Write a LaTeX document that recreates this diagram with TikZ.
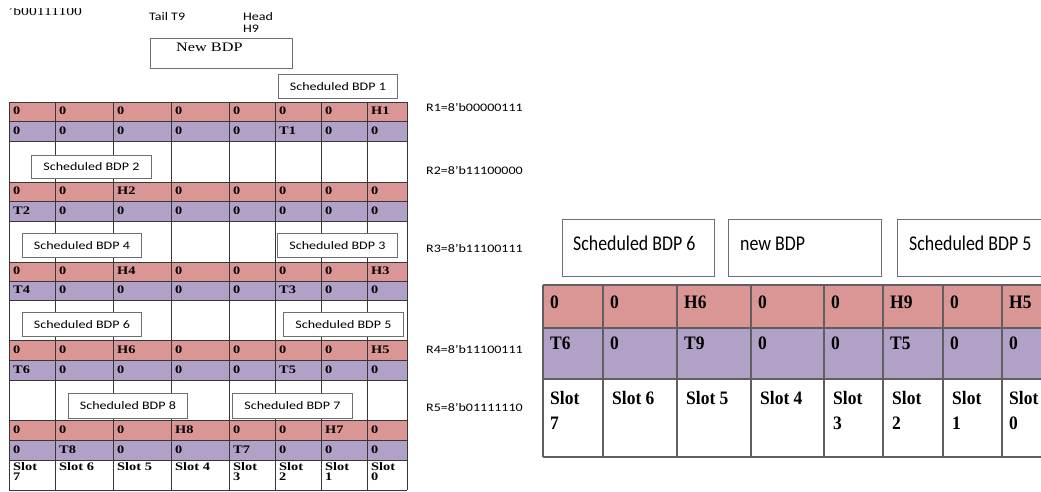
\documentclass[tikz,border=0pt]{standalone}
\usepackage{fontspec}
\setmainfont{Liberation Serif}
\newfontfamily\lserif[FakeStretch=1.25]{Liberation Serif}
\newfontfamily\lsans[FakeStretch=1.22]{Carlito}
\newfontfamily\rserif[FakeStretch=0.92]{Liberation Serif}
\newfontfamily\rsans[FakeStretch=0.85]{Carlito}
\definecolor{pinkc}{RGB}{217,150,148}
\definecolor{purpc}{RGB}{178,161,199}
\definecolor{gridc}{RGB}{55,55,55}
\definecolor{boxc}{RGB}{110,110,110}
\tikzset{
  lcell/.style={anchor=base west,inner sep=0pt,font=\lserif\bfseries\fontsize{11.5}{10}\selectfont},
  lslot/.style={anchor=base west,inner sep=0pt,align=left,font=\lserif\bfseries\fontsize{11.5}{10}\selectfont},
  rcell/.style={anchor=base west,inner sep=0pt,font=\rserif\bfseries\fontsize{19}{23}\selectfont},
  rslot/.style={anchor=north west,inner sep=0pt,align=left,font=\rserif\bfseries\fontsize{19}{25}\selectfont},
  lbox/.style={draw=boxc,fill=white,line width=0.8pt,inner sep=0pt,anchor=north west,font=\lsans\fontsize{11.5}{13}\selectfont},
  rbox/.style={draw=boxc,fill=white,line width=1pt,inner sep=0pt,anchor=north west},
  rboxtext/.style={anchor=base west,inner sep=0pt,font=\rsans\fontsize{21}{24}\selectfont},
  lab/.style={anchor=base west,inner sep=0pt,font=\lsans\fontsize{11.5}{12}\selectfont},
  lgrid/.style={draw=gridc,line width=0.8pt},
  rgrid/.style={draw=gridc!80,line width=1.1pt}
}
\newcommand\lrow[3]{%
  \foreach \v [count=\i] in {#3} {
    \pgfmathsetmacro\xx{{9,55,113,171,229,275,321,367}[\i-1]}
    \node[lcell] (L#1-\i) at (\xx+4,#2) {\v};
  }}
\newcommand\rrow[3]{%
  \foreach \v [count=\i] in {#3} {
    \pgfmathsetmacro\xx{{543,603,677,751,824,883,943,1002}[\i-1]}
    \node[rcell] (R#1-\i) at (\xx+7,#2) {\v};
  }}
\begin{document}
\begin{tikzpicture}[x=1pt,y=-1pt]
\useasboundingbox (0,0) rectangle (1041,491);
\clip (0,0) rectangle (1041,491);
\fill[white] (0,0) rectangle (1041,491);
% ---------- left table ----------
\foreach \t/\b/\c in {102/121/pinkc,121/141/purpc,182/201/pinkc,201/221/purpc,262/281/pinkc,281/300/purpc,340/360/pinkc,360/380/purpc,420/440/pinkc,440/460/purpc}
  \fill[\c] (9,\t) rectangle (407,\b);
\foreach \y in {102,121,141,182,201,221,262,281,300,340,360,380,420,440,460,490}
  \draw[lgrid] (9,\y) -- (407,\y);
\foreach \x in {9,55,113,171,229,275,321,367,407}
  \draw[lgrid] (\x,102) -- (\x,490);
\lrow{a}{114.5}{0,0,0,0,0,0,0,H1}
\lrow{b}{134.5}{0,0,0,0,0,T1,0,0}
\lrow{c}{194.5}{0,0,H2,0,0,0,0,0}
\lrow{d}{214.5}{T2,0,0,0,0,0,0,0}
\lrow{e}{274.5}{0,0,H4,0,0,0,0,H3}
\lrow{f}{293.5}{T4,0,0,0,0,T3,0,0}
\lrow{g}{353.5}{0,0,H6,0,0,0,0,H5}
\lrow{h}{373.5}{T6,0,0,0,0,T5,0,0}
\lrow{i}{433.5}{0,0,0,H8,0,0,H7,0}
\lrow{j}{453.5}{0,T8,0,0,T7,0,0,0}
\node[lslot] (Ls7a) at (13,470) {Slot};
\node[lslot] (Ls7b) at (13,480) {7};
\node[lslot] (Ls6) at (59,470) {Slot 6};
\node[lslot] (Ls5) at (117,470) {Slot 5};
\node[lslot] (Ls4) at (175,470) {Slot 4};
\node[lslot] (Ls3a) at (233,470) {Slot};
\node[lslot] (Ls3b) at (233,480) {3};
\node[lslot] (Ls2a) at (279,470) {Slot};
\node[lslot] (Ls2b) at (279,480) {2};
\node[lslot] (Ls1a) at (325,470) {Slot};
\node[lslot] (Ls1b) at (325,480) {1};
\node[lslot] (Ls0a) at (371,470) {Slot};
\node[lslot] (Ls0b) at (371,480) {0};
% boxes on the left
\node[lbox,minimum width=119pt,minimum height=24pt] (b1) at (278,74) {Scheduled BDP 1};
\node[lbox,minimum width=120pt,minimum height=23pt] (b2) at (31,155) {Scheduled BDP 2};
\node[lbox,minimum width=119pt,minimum height=24pt] (b4) at (22,233) {Scheduled BDP 4};
\node[lbox,minimum width=120pt,minimum height=24pt] (b3) at (277,233) {Scheduled BDP 3};
\node[lbox,minimum width=119pt,minimum height=24pt] (b6) at (22,312) {Scheduled BDP 6};
\node[lbox,minimum width=120pt,minimum height=24pt] (b5) at (283,312) {Scheduled BDP 5};
\node[lbox,minimum width=119pt,minimum height=25pt] (b8) at (68,393) {Scheduled BDP 8};
\node[lbox,minimum width=120pt,minimum height=25pt] (b7) at (232,393) {Scheduled BDP 7};
\node[lbox,minimum width=142pt,minimum height=30pt] (nb) at (150,38) {};
\node[anchor=base west,inner sep=0pt,font=\lserif\fontsize{13}{15}\selectfont] (nbt) at (176,51) {New BDP};
% labels at the top
\begin{scope}
\clip (0,8) rectangle (120,30);
\node[anchor=base west,inner sep=0pt,font=\lserif\fontsize{12.5}{14}\selectfont] (r0) at (8,15.5) {’b00111100};
\end{scope}
\node[lab] (tail) at (149,20) {Tail T9};
\node[lab] (head) at (243,20) {Head};
\node[lab] (h9) at (243,32) {H9};
\node[lab] (R1) at (426,111) {R1=8’b00000111};
\node[lab] (R2) at (426,174) {R2=8’b11100000};
\node[lab] (R3) at (426,252) {R3=8’b11100111};
\node[lab] (R4) at (426,353) {R4=8’b11100111};
\node[lab] (R5) at (426,411) {R5=8’b01111110};
% ---------- right table ----------
\fill[pinkc] (543,285) rectangle (1053,328);
\fill[purpc] (543,328) rectangle (1053,379);
\foreach \y in {285,328,379,457}
  \draw[rgrid] (543,\y) -- (1053,\y);
\foreach \x in {543,603,677,751,824,883,943,1002,1053}
  \draw[rgrid] (\x,285) -- (\x,457);
\rrow{p}{308}{0,0,H6,0,0,H9,0,H5}
\rrow{q}{349}{T6,0,T9,0,0,T5,0,0}
\node[rslot] (Rs7) at (550,391) {Slot\\7};
\node[rslot] (Rs6) at (612,391) {Slot 6};
\node[rslot] (Rs5) at (686,391) {Slot 5};
\node[rslot] (Rs4) at (760,391) {Slot 4};
\node[rslot] (Rs3) at (833,391) {Slot\\3};
\node[rslot] (Rs2) at (892,391) {Slot\\2};
\node[rslot] (Rs1) at (952,391) {Slot\\1};
\node[rslot] (Rs0) at (1009,391) {Slot\\0};
\node[rbox,minimum width=152pt,minimum height=57pt] (rb6) at (562,219) {};
\node[rbox,minimum width=153pt,minimum height=57pt] (rbn) at (728,219) {};
\node[rbox,minimum width=153pt,minimum height=57pt] (rb5) at (897,219) {};
\node[rboxtext] (rb6t) at (573,250) {Scheduled BDP 6};
\node[rboxtext] (rbnt) at (740,250) {new BDP};
\node[rboxtext] (rb5t) at (909,250) {Scheduled BDP 5};
\end{tikzpicture}
\end{document}
